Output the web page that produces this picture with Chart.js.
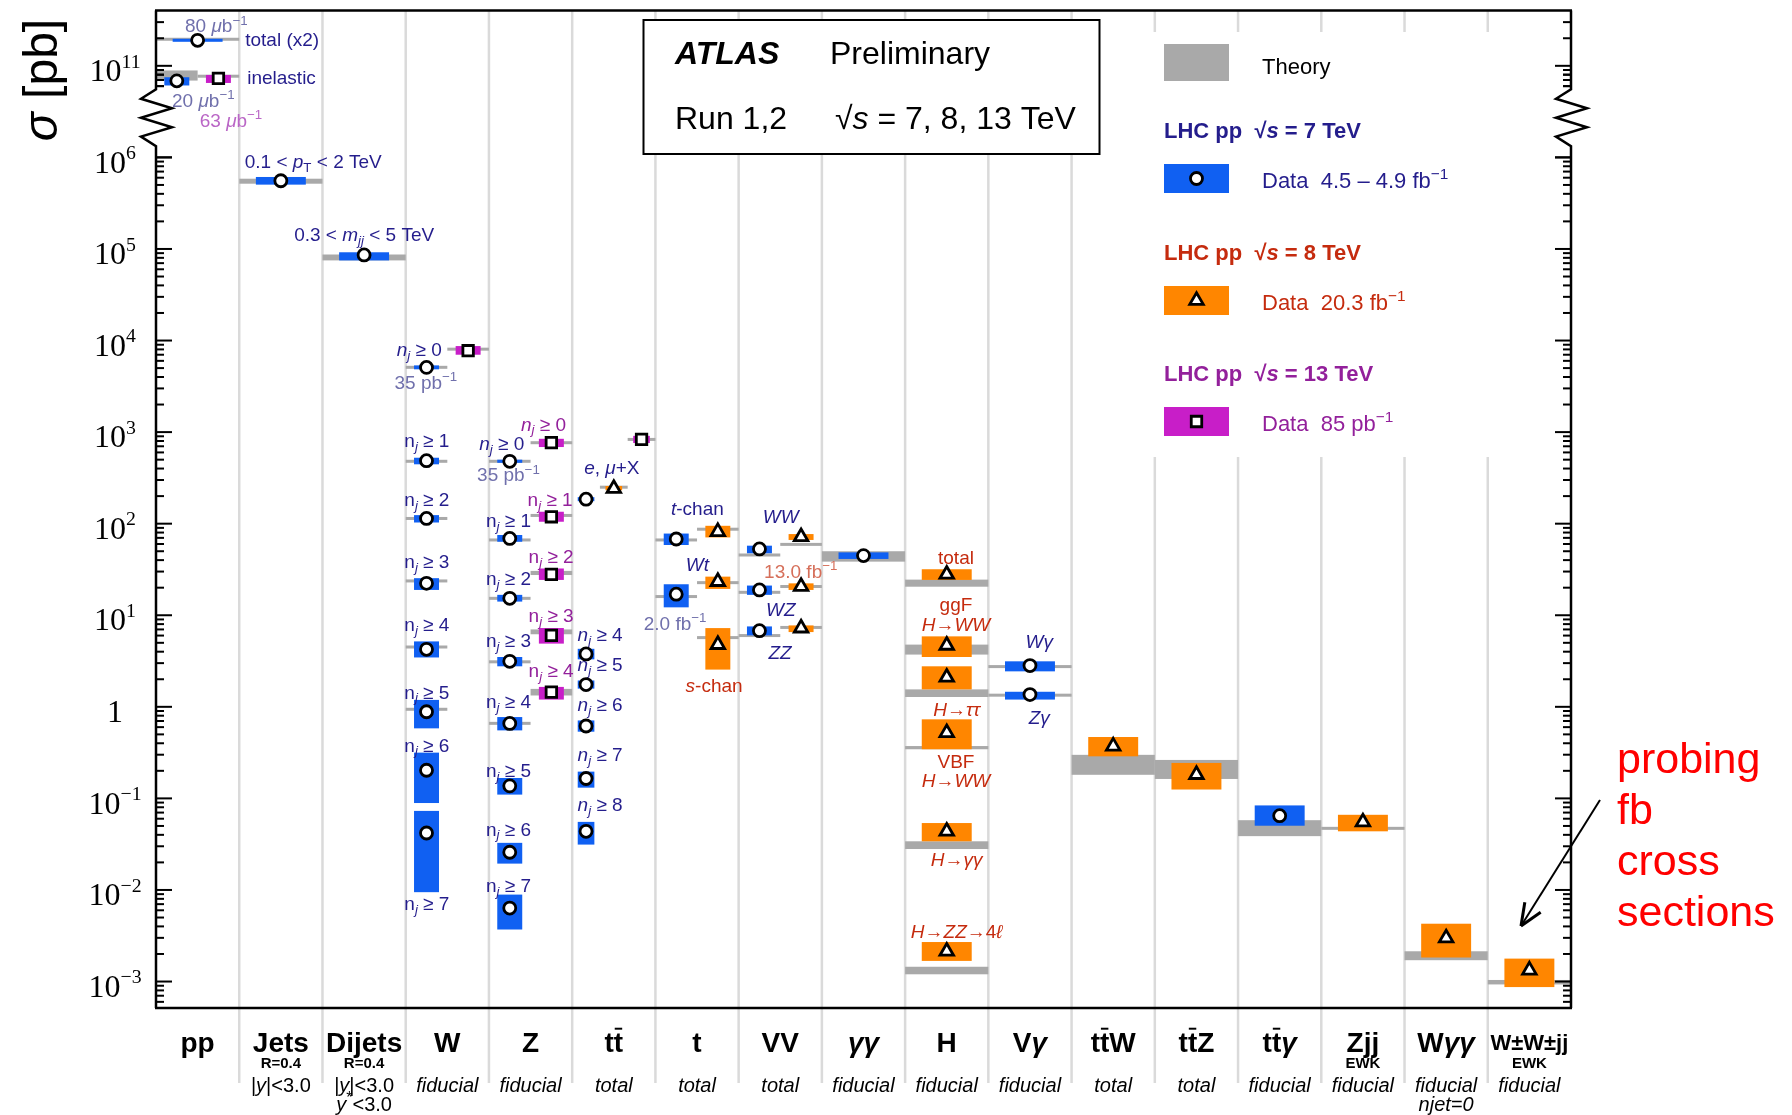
<!DOCTYPE html>
<html>
<head>
<meta charset="utf-8">
<title>ATLAS cross sections</title>
<script src="https://cdn.jsdelivr.net/npm/chart.js@4.4.1/dist/chart.umd.min.js"></script>
<style>
  html, body { margin: 0; background: #fff; }
  canvas { display: block; }
</style>
</head>
<body>
<canvas id="xsec" width="1792" height="1115"></canvas>
<script>
// markup used in the texts: $..$ italic, _{..} subscript, ^{..} superscript, ~x overbar on x
const categories = ['pp', 'Jets', 'Dijets', 'W', 'Z', 't~t', 't', 'VV', '$γγ$', 'H', 'V$γ$',
  't~tW', 't~tZ', 't~t$γ$', 'Zjj', 'W$γγ$', 'W±W±jj'];
const categoryTag = ['', 'R=0.4', 'R=0.4', '', '', '', '', '', '', '', '', '', '', '', 'EWK', '', 'EWK'];
const categoryPhase = ['', '|$y$|<3.0', '|$y$|<3.0', '$fiducial$', '$fiducial$', '$total$', '$total$',
  '$total$', '$fiducial$', '$fiducial$', '$fiducial$', '$total$', '$total$', '$fiducial$',
  '$fiducial$', '$fiducial$', '$fiducial$'];
const categoryExtra = ['', '', '$y$^{*}<3.0', '', '', '', '', '', '', '', '', '', '', '', '', '$njet=0$', ''];

// [category, σ data, data low, data high, σ theory, theory low, theory high]  in pb
const meas7TeV = [
  [0, 6.85e10, 6.1e10, 7.5e10, 7.8e10, 6.9e10, 8.9e10],
  [1, 5.56e5, 5.04e5, 6.11e5, 5.5e5, 5.16e5, 5.85e5],
  [2, 8.6e4, 7.5e4, 9.2e4, 8.1e4, 7.5e4, 8.7e4],
  [3, 5090, 4850, 5350, 5100, 5000, 5200],
  [3, 487, 445, 525, 480, 470, 490],
  [3, 114, 103, 124, 114, 111, 117],
  [3, 22.3, 18.9, 25.4, 23.7, 23.1, 24.3],
  [3, 4.25, 3.46, 5.18, 4.5, 4.39, 4.61],
  [3, 0.883, 0.582, 1.19, 0.94, 0.92, 0.96],
  [3, 0.203, 0.089, 0.316, null, null, null],
  [3, 0.0419, 0.00946, 0.073, null, null, null],
  [4, 480, 462, 500, 480, 470, 490],
  [4, 69, 63.5, 75.2, 66.4, 65, 68],
  [4, 15.3, 14.1, 16.7, 15.3, 15, 15.6],
  [4, 3.14, 2.77, 3.5, 3.1, 3.04, 3.16],
  [4, 0.659, 0.553, 0.773, 0.66, 0.645, 0.675],
  [4, 0.137, 0.11, 0.167, null, null, null],
  [4, 0.0258, 0.0194, 0.0327, null, null, null],
  [4, 0.00634, 0.0037, 0.0089, null, null, null],
  [5, 185, 176, 195, null, null, null],
  [5, 3.78, 3.3, 4.3, null, null, null],
  [5, 1.75, 1.58, 1.94, null, null, null],
  [5, 0.617, 0.535, 0.71, null, null, null],
  [5, 0.165, 0.131, 0.196, null, null, null],
  [5, 0.0437, 0.0313, 0.0554, null, null, null],
  [6, 68, 58.5, 78, 66.4, 65, 68],
  [6, 17, 12.2, 21.8, 16.0, 15.6, 16.4],
  [7, 53, 47.5, 57.5, 45.5, 44.5, 46.5],
  [7, 18.9, 16.7, 21.1, 17.8, 17.4, 18.2],
  [7, 6.78, 6.03, 7.55, 6.0, 5.87, 6.13],
  [8, 44.8, 41.2, 48.6, 44, 38.5, 50],
  [10, 2.82, 2.44, 3.14, 2.75, 2.7, 2.8],
  [10, 1.36, 1.2, 1.46, 1.34, 1.31, 1.37],
  [13, 0.0647, 0.0503, 0.0838, 0.048, 0.0387, 0.0578]
];
// pp total (x2), shown across the whole pp column
const meas7TeVTotal = [
  [0, 1.9e11, 1.86e11, 1.94e11, 1.95e11, 1.93e11, 1.97e11]
];
const meas8TeV = [
  [5, 242, 232, 258, 250, 241, 260],
  [6, 81.7, 70.8, 94.8, 87, 85.5, 88.5],
  [6, 23.3, 19.4, 26.4, 22.7, 22.2, 23.2],
  [6, 4.78, 2.55, 7.24, 5.7, 5.55, 5.85],
  [7, 71.9, 66.4, 77, 59.4, 58, 60.8],
  [7, 20.6, 18.9, 22.3, 20.6, 20.1, 21.1],
  [7, 7.24, 6.55, 7.74, 7.36, 7.2, 7.5],
  [9, 28, 24.3, 31.8, 22.3, 20.5, 24.5],
  [9, 4.69, 3.5, 5.88, 4.2, 3.72, 4.78],
  [9, 2.1, 1.55, 2.77, 1.4, 1.28, 1.55],
  [9, 0.521, 0.344, 0.73, 0.36, 0.344, 0.373],
  [9, 0.0437, 0.034, 0.0538, 0.031, 0.028, 0.034],
  [9, 0.00214, 0.00168, 0.0027, 0.00132, 0.0012, 0.00145],
  [11, 0.372, 0.288, 0.468, 0.232, 0.181, 0.299],
  [12, 0.182, 0.125, 0.244, 0.215, 0.163, 0.263],
  [14, 0.0552, 0.0437, 0.0662, 0.0471, 0.046, 0.0482],
  [15, 0.00299, 0.00183, 0.00428, 0.0019, 0.00171, 0.00214],
  [16, 0.00133, 0.00087, 0.00178, 0.00098, 0.00093, 0.00104]
];
const meas13TeV = [
  [0, 7.3e10, 6.5e10, 7.95e10, 7.7e10, 7.6e10, 7.8e10],
  [3, 7740, 7000, 8700, 8050, 7900, 8200],
  [4, 766, 687, 845, 766, 752, 780],
  [4, 119, 105, 135, 123, 120, 126],
  [4, 28, 24.3, 32.4, 29, 27.5, 30.5],
  [4, 6.03, 4.9, 7.25, 6.6, 6.2, 7.0],
  [4, 1.45, 1.2, 1.65, 1.45, 1.33, 1.57],
  [5, 834, 760, 910, 832, 815, 849]
];

const yTickExps = [-3, -2, -1, 0, 1, 2, 3, 4, 5, 6, 11];
const yTickLabels = ['10^{−3}', '10^{−2}', '10^{−1}', '1', '10^{1}', '10^{2}', '10^{3}', '10^{4}',
  '10^{5}', '10^{6}', '10^{11}'];

// ---- styles ----
const SANS = "'Liberation Sans', Arial, sans-serif";
const NARROW = "'Liberation Sans Narrow', 'Liberation Sans', sans-serif";
const SERIF = "'Liberation Serif', 'DejaVu Serif', serif";
const fill = { 7: '#1060f2', 8: '#ff8600', 13: '#c81ec8' };
const GREY = '#a9a9a9', SEP = '#dadada';
const NAVY = '#241d8c', RED = '#c52b0e', PURPLE = '#93209b';
const LUMI7 = '#7070ac', LUMI8 = '#d66f5a', LUMI13 = '#ba66c6';
const markerStyle = { 7: ['circle', 6], 8: ['triangle', 7.8], 13: ['rect', 7.4] };

// upper part of the axis (above the break) is shifted down by 4 decades
const toAxis = v => { const l = Math.log10(v); return l > 8 ? l - 4 : l; };
const BREAK_LO = 6.123, BREAK_HI = 6.743;

// label positions: x in category units, y in axis decades
const notes = [
  ['80 $μ$b^{−1}', 0.224, 7.44, LUMI7], ['total (x2)', 0.572, 7.287, NAVY, 'left'],
  ['inelastic', 0.596, 6.874, NAVY, 'left'], ['20 $μ$b^{−1}', 0.068, 6.623, LUMI7],
  ['63 $μ$b^{−1}', 0.401, 6.409, LUMI13],
  ['0.1 < $p$_{T} < 2 TeV', 1.389, 5.956, NAVY], ['0.3 < $m$_{$jj$} < 5 TeV', 2.001, 5.158, NAVY],
  ['$n$_{$j$} ≥ 0', 2.662, 3.906, NAVY], ['35 pb^{−1}', 2.742, 3.544, LUMI7],
  ['n_{$j$} ≥ 1', 2.754, 2.91, NAVY], ['n_{$j$} ≥ 2', 2.754, 2.268, NAVY],
  ['n_{$j$} ≥ 3', 2.754, 1.585, NAVY], ['n_{$j$} ≥ 4', 2.754, 0.897, NAVY],
  ['n_{$j$} ≥ 5', 2.754, 0.163, NAVY], ['n_{$j$} ≥ 6', 2.754, -0.417, NAVY],
  ['n_{$j$} ≥ 7', 2.754, -2.15, NAVY],
  ['$n$_{$j$} ≥ 0', 3.655, 2.873, NAVY], ['35 pb^{−1}', 3.734, 2.535, LUMI7],
  ['n_{$j$} ≥ 1', 3.735, 2.039, NAVY], ['n_{$j$} ≥ 2', 3.735, 1.404, NAVY],
  ['n_{$j$} ≥ 3', 3.735, 0.726, NAVY], ['n_{$j$} ≥ 4', 3.735, 0.062, NAVY],
  ['n_{$j$} ≥ 5', 3.735, -0.692, NAVY], ['n_{$j$} ≥ 6', 3.735, -1.334, NAVY],
  ['n_{$j$} ≥ 7', 3.735, -1.951, NAVY],
  ['$n$_{$j$} ≥ 0', 4.155, 3.09, PURPLE], ['n_{$j$} ≥ 1', 4.235, 2.268, PURPLE],
  ['n_{$j$} ≥ 2', 4.247, 1.64, PURPLE], ['n_{$j$} ≥ 3', 4.247, 0.998, PURPLE],
  ['n_{$j$} ≥ 4', 4.247, 0.396, PURPLE],
  ['$e$, $μ$+X', 4.976, 2.619, NAVY],
  ['$n$_{$j$} ≥ 4', 4.836, 0.788, NAVY], ['$n$_{$j$} ≥ 5', 4.836, 0.461, NAVY],
  ['$n$_{$j$} ≥ 6', 4.836, 0.026, NAVY], ['$n$_{$j$} ≥ 7', 4.836, -0.518, NAVY],
  ['$n$_{$j$} ≥ 8', 4.836, -1.062, NAVY],
  ['$t$-chan', 6.004, 2.165, NAVY], ['$Wt$', 6.004, 1.556, NAVY],
  ['2.0 fb^{−1}', 5.736, 0.915, LUMI7], ['$s$-chan', 6.205, 0.236, RED],
  ['$WW$', 7.006, 2.075, NAVY], ['13.0 fb^{−1}', 7.246, 1.484, LUMI8],
  ['$WZ$', 7.006, 1.067, NAVY], ['$ZZ$', 6.997, 0.599, NAVY],
  ['total', 9.111, 1.629, RED], ['ggF', 9.111, 1.114, RED], ['$H$→$WW$', 9.111, 0.897, RED],
  ['$H$→$ττ$', 9.119, -0.028, RED], ['VBF', 9.111, -0.593, RED], ['$H$→$WW$', 9.111, -0.808, RED],
  ['$H$→$γγ$', 9.119, -1.661, RED], ['$H$→$ZZ$→4$ℓ$', 9.119, -2.448, RED],
  ['$Wγ$', 10.111, 0.715, NAVY], ['$Zγ$', 10.111, -0.112, NAVY]
];

// ---- layout of each measurement inside its column ----
const byEnergy = { 7: meas7TeV, 8: meas8TeV, 13: meas13TeV };
const energiesIn = categories.map((_, c) => [7, 8, 13].filter(e => byEnergy[e].some(m => m[0] === c)));
function slot(c, e) {
  const es = energiesIn[c], n = es.length, k = es.indexOf(e);
  return { x: c - 0.5 + (k + 0.5) / n, lo: c - 0.5 + k / n, hi: c - 0.5 + (k + 1) / n, half: 0.3 / n };
}
const rows = [];
[7, 8, 13].forEach(e => byEnergy[e].forEach(m => rows.push({ e, m, s: slot(m[0], e) })));
meas7TeVTotal.forEach(m => rows.push({ e: 7, m, s: { x: m[0], lo: m[0] - 0.5, hi: m[0] + 0.5, half: 0.3 } }));

// ---- rich text ----
function parseRich(s) {
  const runs = [];
  let it = false, sh = 0, buf = '';
  const push = () => { if (buf) runs.push({ t: buf, it, sh, bar: false }); buf = ''; };
  for (let i = 0; i < s.length; i++) {
    const ch = s[i];
    if (ch === '$') { push(); it = !it; }
    else if ((ch === '_' || ch === '^') && s[i + 1] === '{') { push(); sh = ch === '^' ? 1 : -1; i++; }
    else if (ch === '}' && sh) { push(); sh = 0; }
    else if (ch === '~') { push(); runs.push({ t: s[++i], it, sh, bar: true }); }
    else buf += ch;
  }
  push();
  return runs;
}

function drawRich(ctx, s, x, y, o) {
  const size = o.size, sc = o.supScale || 0.7;
  const runs = parseRich(s);
  const fontOf = r => `${r.it ? 'italic ' : ''}${o.weight || 'normal'} ${(r.sh ? size * sc : size).toFixed(1)}px ${o.family || SANS}`;
  let w = 0;
  runs.forEach(r => { ctx.font = fontOf(r); r.w = ctx.measureText(r.t).width; w += r.w; });
  if (o.maxWidth && w > o.maxWidth) return drawRich(ctx, s, x, y, { ...o, size: size * o.maxWidth / w, maxWidth: 0 });
  let cx = o.align === 'left' ? x : o.align === 'right' ? x - w : x - w / 2;
  const base = y + size * 0.35;
  ctx.fillStyle = o.color || '#000';
  ctx.textAlign = 'left';
  ctx.textBaseline = 'alphabetic';
  runs.forEach(r => {
    ctx.font = fontOf(r);
    const by = base - (r.sh > 0 ? size * (o.supRaise || 0.4) : r.sh < 0 ? -size * 0.2 : 0);
    ctx.fillText(r.t, cx, by);
    if (r.bar) ctx.fillRect(cx + r.w * 0.1, by - size * 0.86, r.w * 0.8, Math.max(1.5, size * 0.07));
    cx += r.w;
  });
  return w;
}

function marker(ctx, e, px, py) {
  const [style, r] = markerStyle[e];
  ctx.beginPath();
  if (style === 'circle') ctx.arc(px, py, r, 0, 2 * Math.PI);
  else if (style === 'triangle') {
    for (let k = 0; k < 3; k++) {
      const a = k * 2 * Math.PI / 3;
      ctx[k ? 'lineTo' : 'moveTo'](px + Math.sin(a) * r, py - Math.cos(a) * r);
    }
    ctx.closePath();
  } else {
    const h = r * Math.SQRT1_2;
    ctx.rect(px - h, py - h, 2 * h, 2 * h);
  }
  ctx.fillStyle = '#fff'; ctx.fill();
  ctx.lineWidth = 2.8; ctx.strokeStyle = '#000'; ctx.stroke();
}

function line(ctx, x0, y0, x1, y1) {
  ctx.beginPath(); ctx.moveTo(x0, y0); ctx.lineTo(x1, y1); ctx.stroke();
}

// box between two values; thin boxes are given a minimum height around the central value
function band(ctx, x, y, x0, x1, mid, v0, v1, color) {
  const px0 = x.getPixelForValue(x0), px1 = x.getPixelForValue(x1);
  let top = y.getPixelForValue(toAxis(v1)), bot = y.getPixelForValue(toAxis(v0));
  if (bot - top < 3) { const c = y.getPixelForValue(toAxis(mid)); top = c - 1.5; bot = c + 1.5; }
  ctx.fillStyle = color;
  ctx.fillRect(px0, top, px1 - px0, bot - top);
}

const drawing = {
  id: 'xsecDrawing',
  beforeDatasetsDraw(chart) {
    const { ctx, chartArea: a, scales: { x, y } } = chart;
    ctx.save();
    // column separators (they also run down into the label area)
    ctx.strokeStyle = SEP; ctx.lineWidth = 2.5;
    for (let c = 0; c < categories.length - 1; c++) {
      const px = x.getPixelForValue(c + 0.5);
      line(ctx, px, a.top, px, a.bottom + 75);
    }
    // legend area and title box hide the separators
    ctx.fillStyle = '#fff';
    ctx.fillRect(1142, 32, 426, 425);
    ctx.fillRect(643, 20, 456, 134);

    rows.forEach(({ m, s }) => {
      if (m[4] != null) band(ctx, x, y, s.lo, s.hi, m[4], m[5], m[6], GREY);
    });
    rows.forEach(({ e, m, s }) => band(ctx, x, y, s.x - s.half, s.x + s.half, m[1], m[2], m[3], fill[e]));

    notes.forEach(([t, nx, ny, color, align]) => {
      drawRich(ctx, t, x.getPixelForValue(nx), y.getPixelForValue(ny),
        { size: 19, color, align: align || 'center' });
    });
    ctx.restore();
  },
  afterDatasetsDraw(chart) {
    const { ctx, chartArea: a, scales: { x, y } } = chart;
    ctx.save();
    ctx.strokeStyle = '#000';

    // ticks (inside, both sides)
    ctx.lineWidth = 2;
    const tick = (u, len) => {
      const py = y.getPixelForValue(u);
      line(ctx, a.left, py, a.left + len, py);
      line(ctx, a.right, py, a.right - len, py);
    };
    for (let d = -4; d <= 11; d++) {
      if (d > 6 && d < 10) continue;
      for (let k = 1; k <= 9; k++) {
        const u = toAxis(k * Math.pow(10, d));
        const inLow = u >= y.min && u <= BREAK_LO;
        const inHigh = u >= BREAK_HI && u <= y.max - 0.01;
        if (inLow || inHigh) tick(u, k === 1 ? 16 : 8);
      }
    }

    // frame with broken vertical axes
    ctx.lineWidth = 2.5;
    line(ctx, a.left - 1, a.top, a.right + 1, a.top);
    line(ctx, a.left - 1, a.bottom, a.right + 1, a.bottom);
    const yb0 = y.getPixelForValue(BREAK_HI), yb1 = y.getPixelForValue(BREAK_LO);
    const zig = [0, -15, 16, -15, 16, -15, 0];
    [a.left, a.right].forEach(ax => {
      ctx.beginPath();
      ctx.moveTo(ax, a.top);
      zig.forEach((dx, i) => ctx.lineTo(ax + dx, yb0 + (yb1 - yb0) * i / (zig.length - 1)));
      ctx.lineTo(ax, a.bottom);
      ctx.stroke();
    });

    // y tick labels
    yTickExps.forEach((ex, i) => {
      const u = toAxis(Math.pow(10, ex));
      drawRich(ctx, yTickLabels[i], 115, y.getPixelForValue(u) + 4,
        { size: 32, family: SERIF, supScale: 0.62, supRaise: 0.42, color: '#000' });
    });

    // y title
    ctx.save();
    ctx.translate(40, 80);
    ctx.rotate(-Math.PI / 2);
    drawRich(ctx, '$σ$ [pb]', 0, 0, { size: 48, color: '#000' });
    ctx.restore();

    // category labels
    categories.forEach((name, c) => {
      const px = x.getPixelForValue(c);
      drawRich(ctx, name, px, 1042, { size: 28, weight: 'bold', color: '#000', maxWidth: 78 });
      if (categoryTag[c]) drawRich(ctx, categoryTag[c], px, 1063, { size: 15, weight: 'bold', family: NARROW, color: '#000' });
      if (categoryPhase[c]) drawRich(ctx, categoryPhase[c], px, 1085, { size: 20, family: NARROW, color: '#000' });
      if (categoryExtra[c]) drawRich(ctx, categoryExtra[c], px, 1104, { size: 20, family: NARROW, color: '#000', supScale: 0.8 });
    });

    // title box
    ctx.lineWidth = 2;
    ctx.strokeRect(643.5, 20, 456, 134);
    drawRich(ctx, '$ATLAS$', 675, 53, { size: 32, weight: 'bold', align: 'left' });
    drawRich(ctx, 'Preliminary', 830, 53, { size: 32, align: 'left' });
    drawRich(ctx, 'Run 1,2', 675, 118, { size: 32, align: 'left' });
    drawRich(ctx, '√$s$ = 7, 8, 13 TeV', 835, 118, { size: 32, align: 'left' });

    // legend
    ctx.fillStyle = GREY;
    ctx.fillRect(1164, 44, 65, 37);
    drawRich(ctx, 'Theory', 1262, 66, { size: 22, align: 'left' });
    const legendRows = [
      [7, 'LHC pp  √$s$ = 7 TeV', 'Data  4.5 – 4.9 fb^{−1}', NAVY, 130],
      [8, 'LHC pp  √$s$ = 8 TeV', 'Data  20.3 fb^{−1}', RED, 252],
      [13, 'LHC pp  √$s$ = 13 TeV', 'Data  85 pb^{−1}', PURPLE, 373]
    ];
    legendRows.forEach(([e, head, text, color, ly]) => {
      drawRich(ctx, head, 1164, ly, { size: 22, weight: 'bold', color, align: 'left' });
      ctx.fillStyle = fill[e];
      ctx.fillRect(1164, ly + 34, 65, 29);
      marker(ctx, e, 1196.5, ly + 48.5);
      drawRich(ctx, text, 1262, ly + 50, { size: 22, color, align: 'left' });
    });

    // comment on the right
    ['probing', 'fb', 'cross', 'sections'].forEach((w, i) => {
      drawRich(ctx, w, 1617, 758 + i * 51, { size: 43, color: '#ff0000', align: 'left' });
    });
    ctx.strokeStyle = '#000';
    ctx.lineWidth = 2;
    const ax0 = 1600, ay0 = 800, ax1 = 1521, ay1 = 926;
    line(ctx, ax0, ay0, ax1, ay1);
    const ang = Math.atan2(ay1 - ay0, ax1 - ax0);
    ctx.lineWidth = 3;
    [-0.4, 0.4].forEach(da => line(ctx, ax1, ay1, ax1 - 24 * Math.cos(ang + da), ay1 - 24 * Math.sin(ang + da)));
    ctx.restore();
  }
};

const markerData = e => rows.filter(r => r.e === e).map(r => ({ x: r.s.x, y: toAxis(r.m[1]) }));
const pointSet = (label, e) => ({
  label,
  data: markerData(e),
  pointStyle: markerStyle[e][0],
  pointRadius: markerStyle[e][1],
  pointHoverRadius: markerStyle[e][1],
  pointBackgroundColor: '#fff',
  pointBorderColor: '#000',
  pointBorderWidth: 2.8,
  showLine: false,
  clip: false
});

new Chart(document.getElementById('xsec'), {
  type: 'scatter',
  data: {
    datasets: [pointSet('√s = 7 TeV', 7), pointSet('√s = 8 TeV', 8), pointSet('√s = 13 TeV', 13)]
  },
  options: {
    responsive: false,
    devicePixelRatio: 1,
    animation: false,
    events: [],
    layout: { padding: { left: 156, right: 221, top: 7, bottom: 107 } },
    plugins: { legend: { display: false }, tooltip: { enabled: false } },
    scales: {
      x: { type: 'linear', min: -0.5, max: categories.length - 0.5, display: false },
      y: { type: 'linear', min: -3.289, max: 7.603, display: false }
    }
  },
  plugins: [drawing]
});
</script>
</body>
</html>
